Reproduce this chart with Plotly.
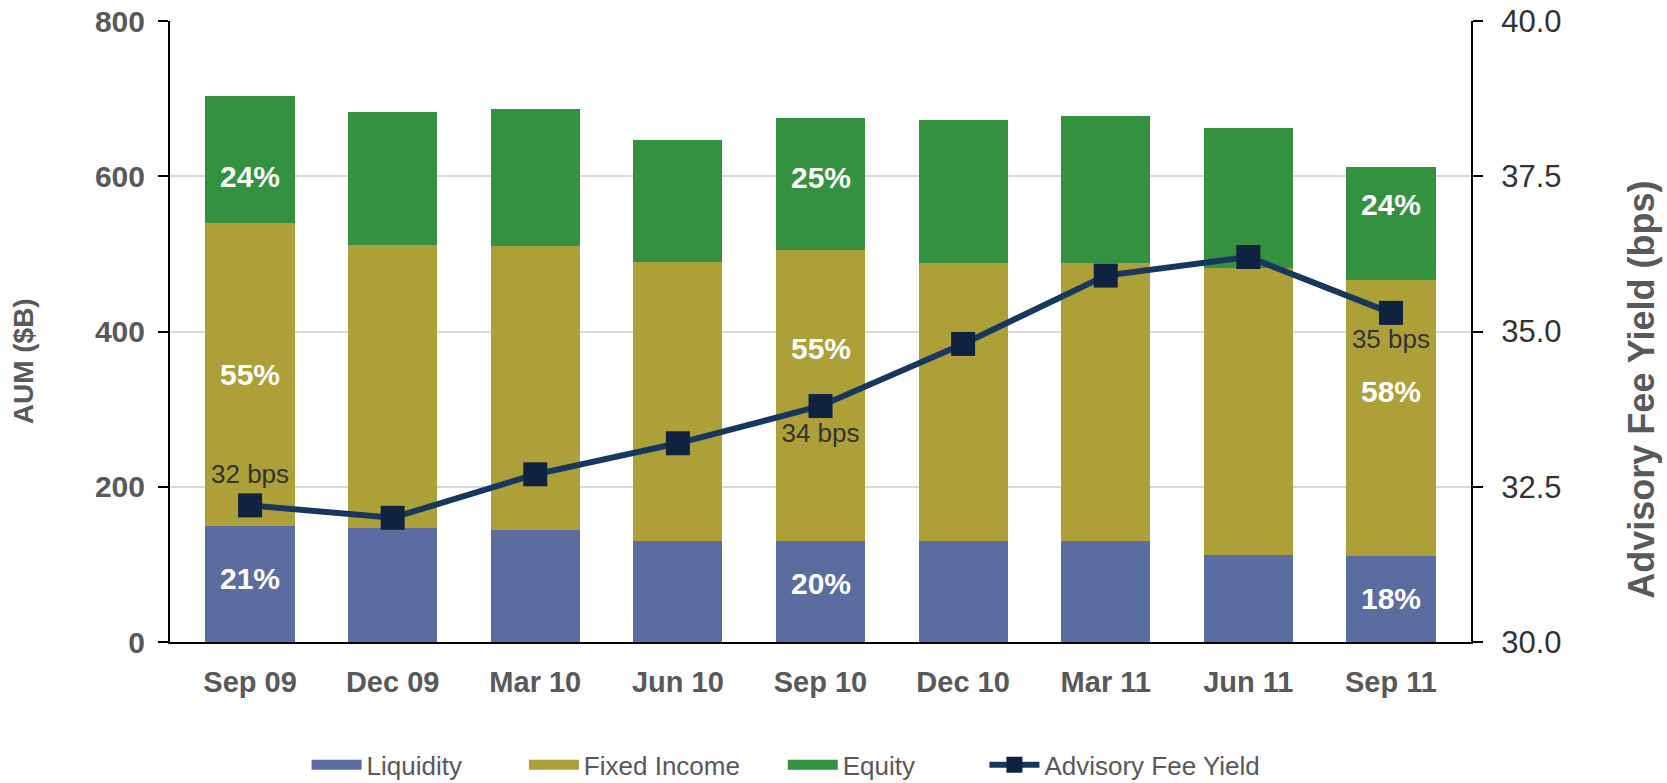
import plotly.graph_objects as go

# quarters on the x axis
quarters = ["Sep 09", "Dec 09", "Mar 10", "Jun 10", "Sep 10",
            "Dec 10", "Mar 11", "Jun 11", "Sep 11"]

# AUM by asset class ($B)
liquidity = [149, 147, 144, 130, 130, 130, 130, 112, 111]
fixed_income = [391, 365, 366, 359, 375, 358, 358, 370, 355]
equity = [163, 171, 176, 158, 170, 185, 190, 180, 146]

# in-bar share labels (only shown on some quarters)
liq_labels = ["21%", "", "", "", "20%", "", "", "", "18%"]
fi_labels = ["55%", "", "", "", "55%", "", "", "", "58%"]
eq_labels = ["24%", "", "", "", "25%", "", "", "", "24%"]

# advisory fee yield (bps)
fee_yield = [32.2, 32.0, 32.7, 33.2, 33.8, 34.8, 35.9, 36.2, 35.3]
fee_labels = ["32 bps", "", "", "", "34 bps", "", "", "", "35 bps"]

FONT = "Liberation Sans, Arial, sans-serif"
GREY = "#595959"
COLORS = {"Liquidity": "#5B6DA0", "Fixed Income": "#ADA038", "Equity": "#349140"}

fig = go.Figure()

# stacked bars
for name, vals in [("Liquidity", liquidity), ("Fixed Income", fixed_income), ("Equity", equity)]:
    fig.add_trace(go.Bar(
        x=quarters, y=vals, name=name, showlegend=False,
        marker=dict(color=COLORS[name], line=dict(width=0)),
    ))

# legend swatches (wide rectangles like the original), one legend box each
for name, leg in [("Liquidity", "legend"), ("Fixed Income", "legend4"), ("Equity", "legend3")]:
    fig.add_trace(go.Scatter(
        x=[None], y=[None], name=name, mode="lines", legend=leg,
        line=dict(color=COLORS[name], width=10),
    ))

text_pos = ["top center" if i == 0 else "bottom center" for i in range(len(fee_labels))]
fig.add_trace(go.Scatter(
    x=quarters, y=fee_yield, name="Advisory Fee Yield", yaxis="y2",
    mode="lines+markers+text", legend="legend2",
    line=dict(color="#17375E", width=6),
    marker=dict(symbol="square", size=24, color="#0F2340"),
    text=fee_labels, textposition=text_pos,
    textfont=dict(family=FONT, size=26, color="#333333"),
    cliponaxis=False,
))

# percentage labels in the bars, nudged the way the original has them
nudge = {"liq": [6, 0, 0, 0, 8, 0, 0, 0, 0],
         "fi": [0, 0, 0, 0, 47, 0, 0, 0, 27],
         "eq": [-17, 0, 0, 0, 7, 0, 0, 0, 19]}
for i, q in enumerate(quarters):
    mids = [
        ("liq", liquidity[i] / 2, liq_labels[i]),
        ("fi", liquidity[i] + fixed_income[i] / 2, fi_labels[i]),
        ("eq", liquidity[i] + fixed_income[i] + equity[i] / 2, eq_labels[i]),
    ]
    for key, y, label in mids:
        if label:
            fig.add_annotation(
                x=q, y=y, text=label, showarrow=False, yshift=nudge[key][i],
                font=dict(family=FONT, size=30, color="white", weight="bold"),
            )

# axis titles as annotations so they can sit where the original has them
fig.add_annotation(
    xref="paper", yref="paper", x=-0.113, y=0.452, text="AUM ($B)",
    xanchor="center", yanchor="middle", textangle=-90, showarrow=False,
    font=dict(family=FONT, size=28, color=GREY, weight="bold"),
)
fig.add_annotation(
    xref="paper", yref="paper", x=1.131, y=0.407, text="Advisory Fee Yield (bps)",
    xanchor="center", yanchor="middle", textangle=-90, showarrow=False,
    font=dict(family=FONT, size=36, color=GREY, weight="bold"),
)

legend_style = dict(
    orientation="h", xanchor="left", y=-0.16, yanchor="top",
    font=dict(size=26, color=GREY), traceorder="normal", itemwidth=50,
)

fig.update_layout(
    width=1667, height=783,
    barmode="stack", bargap=0.375,
    plot_bgcolor="white", paper_bgcolor="white",
    margin=dict(l=170, r=196, t=21, b=141, autoexpand=False),
    font=dict(family=FONT, color=GREY),
    xaxis=dict(
        showline=True, linecolor="black", linewidth=2, automargin=False,
        ticks="", ticklabelstandoff=13,
        tickfont=dict(size=29, color=GREY, weight="bold"),
    ),
    yaxis=dict(
        range=[0, 800], dtick=200, automargin=False,
        showline=True, linecolor="black", linewidth=2,
        ticks="outside", ticklen=10, tickwidth=2, tickcolor="black",
        ticklabelstandoff=7, ticklabeloverflow="allow",
        showgrid=True, gridcolor="#D9D9D9", gridwidth=2,
        zeroline=False,
        tickfont=dict(size=30, color=GREY, weight="bold"),
    ),
    yaxis2=dict(
        overlaying="y", side="right", automargin=False,
        range=[30, 40], dtick=2.5, tickformat=".1f",
        showline=True, linecolor="black", linewidth=2,
        ticks="outside", ticklen=10, tickwidth=2, tickcolor="black",
        ticklabelstandoff=12, ticklabeloverflow="allow",
        showgrid=False, zeroline=False,
        tickfont=dict(size=31, color="#333333"),
    ),
    legend=dict(legend_style, x=0.105),
    legend4=dict(legend_style, x=0.272),
    legend3=dict(legend_style, x=0.471),
    legend2=dict(legend_style, x=0.626),
    showlegend=True,
)

# drop the default 8px page margin so the figure fills the window exactly
fig.write_html("out.html", config={"displayModeBar": False},
               post_script="document.body.style.margin='0';")
